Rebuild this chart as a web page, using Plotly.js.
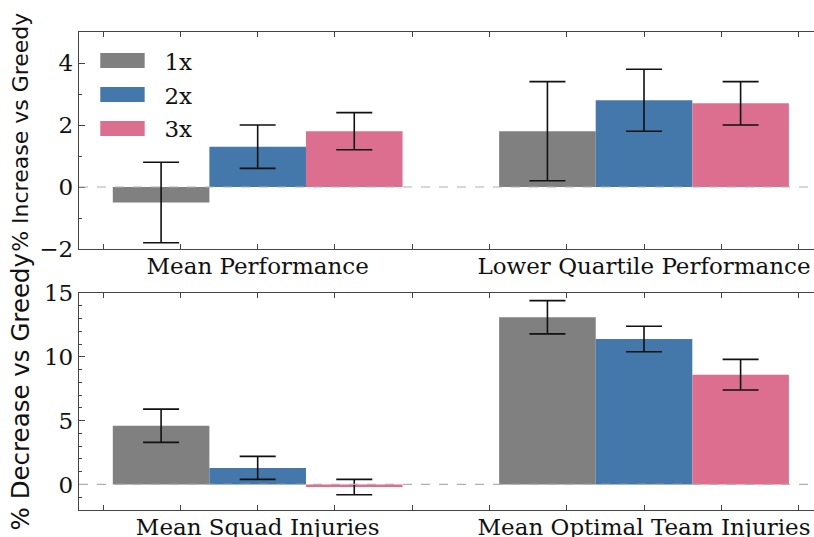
<!DOCTYPE html>
<html>
<head>
<meta charset="utf-8">
<script src="https://cdn.plot.ly/plotly-3.0.1.min.js"></script>
<style>
html,body{margin:0;padding:0;background:#fff;overflow:hidden;}
#chart{width:814px;height:537px;}
</style>
</head>
<body>
<div id="chart"></div>
<script>
// ---- data ----
const seriesNames = ['1x', '2x', '3x'];
const seriesColors = ['#808080', '#4477AA', '#DC6E8F'];

const topCategories = ['Mean Performance', 'Lower Quartile Performance'];
const topValues = [
  [-0.5, 1.8],   // 1x
  [1.3, 2.8],    // 2x
  [1.8, 2.7]     // 3x
];
const topErrors = [
  [1.3, 1.6],
  [0.7, 1.0],
  [0.6, 0.7]
];

const bottomCategories = ['Mean Squad Injuries', 'Mean Optimal Team Injuries'];
const bottomValues = [
  [4.6, 13.1],   // 1x
  [1.3, 11.4],   // 2x
  [-0.2, 8.6]    // 3x
];
const bottomErrors = [
  [1.3, 1.3],
  [0.9, 1.0],
  [0.6, 1.2]
];

const topYTitle = '% Increase vs Greedy';
const bottomYTitle = '% Decrease vs Greedy';

// ---- build ----
const serif = 'DejaVu Serif, Liberation Serif, serif';
const sans = 'DejaVu Sans, sans-serif';
const catIdx = topCategories.map((_, i) => i);

const traces = [];
seriesNames.forEach((name, s) => {
  traces.push({
    type: 'bar', name: name, x: catIdx, y: topValues[s],
    xaxis: 'x', yaxis: 'y',
    marker: {color: seriesColors[s], line: {width: 0}},
    error_y: {type: 'data', array: topErrors[s], visible: true, color: '#111', thickness: 1.6, width: 18},
    legendgroup: 'g' + s, showlegend: true
  });
});
seriesNames.forEach((name, s) => {
  traces.push({
    type: 'bar', name: name, x: catIdx, y: bottomValues[s],
    xaxis: 'x2', yaxis: 'y2',
    marker: {color: seriesColors[s], line: {width: 0}},
    error_y: {type: 'data', array: bottomErrors[s], visible: true, color: '#111', thickness: 1.6, width: 18},
    legendgroup: 'g' + s, showlegend: false
  });
});

const xCommon = {
  range: [-0.4625, 1.44],
  showline: true, linecolor: '#444', linewidth: 1.2, mirror: 'ticks',
  ticks: 'inside', ticklen: 5, tickwidth: 1, tickcolor: '#444',
  minor: {dtick: 0.2, tick0: 0, ticks: 'inside', ticklen: 5, tickwidth: 1, tickcolor: '#444'},
  tickvals: catIdx,
  ticklabelstandoff: -4,
  tickfont: {family: serif, size: 23, color: '#111'},
  showgrid: false, zeroline: false, fixedrange: true
};
const yCommon = {
  showline: true, linecolor: '#444', linewidth: 1.2, mirror: false,
  ticks: 'inside', ticklen: 6, tickwidth: 1, tickcolor: '#444',
  tickfont: {family: serif, size: 23, color: '#111'},
  showgrid: false, zeroline: false, fixedrange: true
};

const layout = {
  width: 814, height: 537,
  margin: {l: 79, r: 0, t: 32, b: 27},
  paper_bgcolor: '#fff', plot_bgcolor: '#fff',
  barmode: 'group', bargap: 0.25, bargroupgap: 0,
  showlegend: true,
  legend: {
    x: 0.002, y: 0.985, xanchor: 'left', yanchor: 'top',
    bgcolor: 'rgba(0,0,0,0)', borderwidth: 0,
    font: {family: serif, size: 23, color: '#111'},
    itemwidth: 74, traceorder: 'grouped', tracegroupgap: 1
  },
  xaxis: Object.assign({}, xCommon, {domain: [0, 1], anchor: 'y', ticktext: topCategories}),
  yaxis: Object.assign({}, yCommon, {domain: [0.546, 1], anchor: 'x', range: [-2, 5], dtick: 2,
    minor: {dtick: 1, ticks: 'inside', ticklen: 3, tickwidth: 1, tickcolor: '#444'}}),
  xaxis2: Object.assign({}, xCommon, {domain: [0, 1], anchor: 'y2', ticktext: bottomCategories}),
  yaxis2: Object.assign({}, yCommon, {domain: [0, 0.454], anchor: 'x2', range: [-2, 15], dtick: 5,
    minor: {dtick: 1, ticks: 'inside', ticklen: 3, tickwidth: 1, tickcolor: '#444'}}),
  shapes: [
    {type: 'line', xref: 'x domain', yref: 'y', x0: 0, x1: 1, y0: 0, y1: 0,
     line: {color: '#b0b0b0', width: 1.2, dash: 'dash'}, layer: 'above'},
    {type: 'line', xref: 'x2 domain', yref: 'y2', x0: 0, x1: 1, y0: 0, y1: 0,
     line: {color: '#b0b0b0', width: 1.2, dash: 'dash'}, layer: 'above'}
  ],
  annotations: [
    {text: topYTitle, xref: 'paper', yref: 'paper', x: -0.079, y: 0.791, xanchor: 'center', yanchor: 'middle',
     textangle: -90, showarrow: false, font: {family: sans, size: 22, color: '#111'}},
    {text: bottomYTitle, xref: 'paper', yref: 'paper', x: -0.079, y: 0.248, xanchor: 'center', yanchor: 'middle',
     textangle: -90, showarrow: false, font: {family: sans, size: 24.5, color: '#111'}}
  ]
};

Plotly.newPlot('chart', traces, layout, {displayModeBar: false, staticPlot: true}).then(function () {
  // widen the legend swatches to match the reference's wide patches
  document.querySelectorAll('.legend .legendpoints path').forEach(function (p) {
    const t = p.getAttribute('transform') || '';
    p.setAttribute('transform', t + ' scale(3.7,1.25)');
  });
});
</script>
</body>
</html>
